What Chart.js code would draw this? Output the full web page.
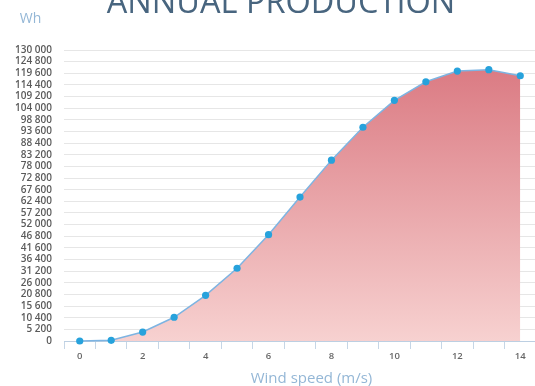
<!DOCTYPE html>
<html>
<head>
<meta charset="utf-8">
<script src="https://cdn.jsdelivr.net/npm/chart.js@4/dist/chart.umd.min.js"></script>
<style>
  html, body { margin: 0; padding: 0; background: #ffffff; overflow: hidden; }
  #wrap { position: relative; width: 540px; height: 386px; }
</style>
</head>
<body>
<div id="wrap"><canvas id="chart"></canvas></div>
<script>
// Wind speed categories (m/s)
const windSpeeds = ['0','1','2','3','4','5','6','7','8','9','10','11','12','13','14'];
// Annual production per wind speed (Wh)
const production = [0, 300, 4000, 10600, 20400, 32500, 47500, 64300, 80800, 95500, 107500, 115800, 120600, 121200, 118500];
// Vertical axis range and step (Wh)
const yMin = 0;
const yMax = 130000;
const yStep = 5200;

const chartTitle = 'ANNUAL PRODUCTION';
const unitLabel = 'Wh';
const xAxisLabel = 'Wind speed (m/s)';

function spaced(v) {
  return String(Math.round(v)).replace(/\B(?=(\d{3})+(?!\d))/g, ' ');
}

// Free-standing texts: title, unit and axis caption
const captions = {
  id: 'captions',
  afterDraw(chart) {
    const ctx = chart.ctx;
    ctx.save();
    ctx.textBaseline = 'alphabetic';
    ctx.textAlign = 'center';
    ctx.fillStyle = '#48657f';
    ctx.font = '400 32.5px "Open Sans"';
    ctx.fillText(chartTitle, 281, 13);
    ctx.fillStyle = '#94b7d6';
    ctx.font = '400 14px "Open Sans"';
    ctx.fillText(unitLabel, 30.5, 22.5);
    ctx.font = '400 15px "Open Sans"';
    ctx.fillText(xAxisLabel, 311.5, 383);
    ctx.restore();
  }
};

new Chart(document.getElementById('chart'), {
  type: 'line',
  data: {
    labels: windSpeeds,
    datasets: [{
      data: production,
      borderColor: '#7db4e2',
      borderWidth: 1.5,
      tension: 0,
      fill: 'origin',
      backgroundColor(context) {
        const area = context.chart.chartArea;
        if (!area) return '#eaa5a8';
        const g = context.chart.ctx.createLinearGradient(0, area.top, 0, area.bottom);
        g.addColorStop(0, '#d9757e');
        g.addColorStop(1, '#f7d1d0');
        return g;
      },
      pointRadius: 3.6,
      pointBackgroundColor: '#27a2dc',
      pointBorderColor: '#27a2dc',
      pointBorderWidth: 0,
      clip: false
    }]
  },
  options: {
    responsive: true,
    maintainAspectRatio: false,
    animation: false,
    events: [],
    layout: { padding: { top: 50, right: 2, bottom: 0, left: 0 } },
    plugins: {
      legend: { display: false },
      title: { display: false },
      tooltip: { enabled: false }
    },
    scales: {
      x: {
        type: 'category',
        offset: true,
        afterFit(scale) { scale.height = 45; },
        border: { display: true, color: '#bccfe2', width: 1 },
        grid: {
          offset: true,
          drawOnChartArea: false,
          drawTicks: true,
          tickLength: 8,
          color: '#c6d6e6'
        },
        ticks: {
          autoSkip: false,
          maxRotation: 0,
          padding: 2,
          color: '#666666',
          font: { family: '"Open Sans"', size: 9.5, weight: '600' },
          callback(value, index) {
            return index % 2 === 0 ? this.getLabelForValue(value) : '';
          }
        }
      },
      y: {
        min: yMin,
        max: yMax,
        afterFit(scale) { scale.width = 64; },
        border: { display: false },
        grid: { color: '#e6e6e6', drawTicks: false, lineWidth: 1 },
        ticks: {
          stepSize: yStep,
          autoSkip: false,
          padding: 12,
          color: '#5a5a5a',
          font: { family: '"Open Sans"', size: 10, weight: '600' },
          callback(value) { return spaced(value); }
        }
      }
    }
  },
  plugins: [captions]
});
</script>
</body>
</html>
